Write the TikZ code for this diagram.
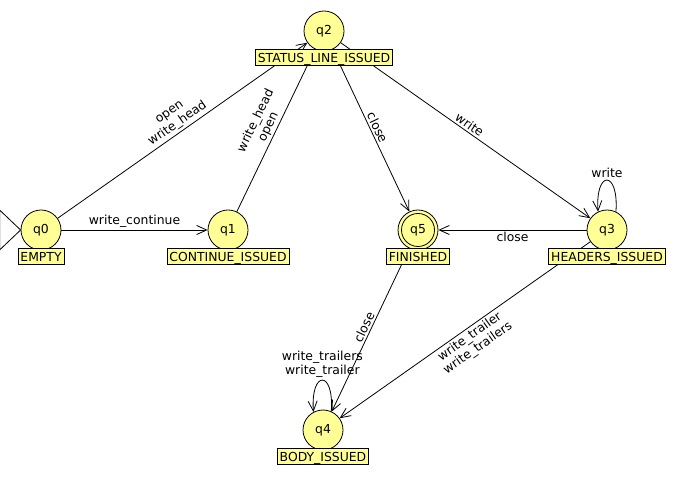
\documentclass[tikz,border=0pt]{standalone}
\usepackage{fontspec}
\setmainfont{DejaVu Sans}
\usetikzlibrary{arrows.meta}
\definecolor{stfill}{RGB}{255,255,150}
\begin{document}
\begin{tikzpicture}[x=1pt,y=1pt,
  font=\fontsize{12.4}{14}\selectfont,
  line width=0.8pt,
  state/.style={circle, draw, fill=stfill, minimum size=40pt, inner sep=0pt},
  innerring/.style={circle, draw, minimum size=33pt, inner sep=0pt},
  tag/.style={draw, fill=stfill, inner xsep=2.5pt, inner ysep=3.5pt, text height=9pt, text depth=0pt, anchor=north},
  edge/.style={-{Straight Barb[length=10pt,width=9pt]}},
  lbl/.style={inner sep=2pt, align=center}]
\useasboundingbox (0,0) rectangle (676,484);
% states
\node[state] (q0) at (41,254) {q0};
\node[state] (q1) at (228,254) {q1};
\node[state] (q2) at (324,453) {q2};
\node[state] (q5) at (418,254) {};
\node[innerring] (q5i) at (q5) {q5};
\node[state] (q3) at (607,254) {q3};
\node[state] (q4) at (323,54) {q4};
% initial marker
\draw[fill=white] (q0.west) -- ++(-21,20) -- ++(0,-40) -- cycle;
% transitions
\draw[edge] (q0) -- node[lbl,above] {write\_continue} (q1);
\draw[edge] (q0) -- node[lbl,sloped,above] {open\\write\_head} (q2);
\draw[edge] (q1) -- node[lbl,sloped,above] {write\_head\\open} (q2);
\draw[edge] (q2) -- node[lbl,sloped,above] {close} (q5);
\draw[edge] (q2) -- node[lbl,sloped,above] {write} (q3);
\draw[edge] (q3) -- node[lbl,below] {close} (q5);
\draw[edge] (q5) -- node[lbl,sloped,above] {close} (q4);
\draw[edge] (q3) -- node[lbl,sloped,below] {write\_trailer\\write\_trailers} (q4);
\draw[edge] (q3.64) .. controls +(86:42) and +(94:42) .. node[lbl,above] {write} (q3.116);
\draw[edge] (q4.66) .. controls +(86:42) and +(94:42) .. node[lbl,above] {write\_trailers\\write\_trailer} (q4.118);
% name tags
\node[tag] (t0) at ([yshift=2pt]q0.south) {EMPTY};
\node[tag] (t1) at ([yshift=2pt]q1.south) {CONTINUE\_ISSUED};
\node[tag] (t2) at ([yshift=2pt]q2.south) {STATUS\_LINE\_ISSUED};
\node[tag] (t5) at ([yshift=2pt]q5.south) {FINISHED};
\node[tag] (t3) at ([yshift=2pt]q3.south) {HEADERS\_ISSUED};
\node[tag] (t4) at ([yshift=2pt]q4.south) {BODY\_ISSUED};
\end{tikzpicture}
\end{document}
